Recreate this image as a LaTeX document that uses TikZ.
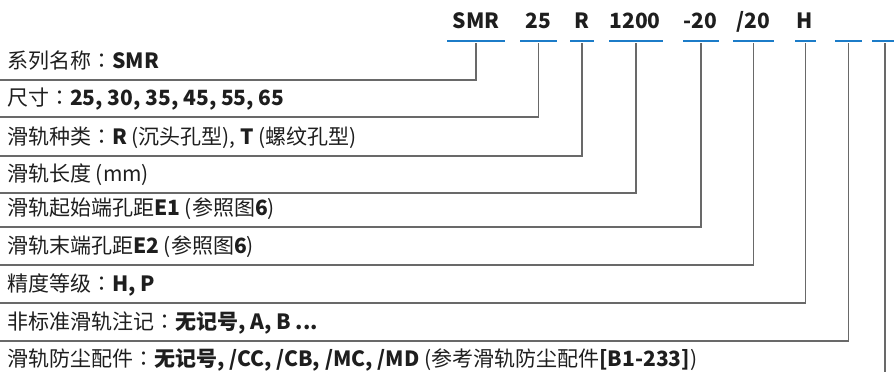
\documentclass[tikz,border=0pt]{standalone}
\usepackage{fontspec}
\setmainfont{Noto Sans CJK SC}
\newfontfamily\colonfont{Noto Sans CJK JP}
\newcommand{\fullcolon}{{\colonfont\mdseries ：}}
\definecolor{codeblue}{RGB}{28,124,200}
\definecolor{leadgray}{RGB}{105,105,105}
\definecolor{textdark}{RGB}{30,30,30}
\usetikzlibrary{positioning}

\tikzset{
  code/.style={anchor=base, font=\fontsize{21}{24}\selectfont\bfseries, text=textdark, inner sep=0pt},
  rowtext/.style={anchor=base west, font=\fontsize{21}{24}\selectfont, text=textdark, inner sep=0pt},
  dashbar/.style={fill=codeblue, inner sep=0pt, minimum height=2.6pt},
  leader/.style={draw=leadgray, line width=1.6pt}
}

\begin{document}
\begin{tikzpicture}[x=1pt, y=-1pt]
  \useasboundingbox (0,0) rectangle (894,372);

  % Order code on top
  \node[code] (cSMR) at (476,28) {SMR};
  \node[code] (c25) at (538,28) {25};
  \node[code] (cR) at (582,28) {R};
  \node[code] (c1200) at (635,28) {1200};
  \node[code] (cE1) at (700,28) {-20};
  \node[code] (cE2) at (753,28) {/20};
  \node[code] (cH) at (805,28) {H};

  % Blue marks under each field
  \node[dashbar, minimum width=58pt] (dSMR) at (476,41) {};
  \node[dashbar, minimum width=37pt] (d25) at (538.5,41) {};
  \node[dashbar, minimum width=24pt] (dR) at (582,41) {};
  \node[dashbar, minimum width=54pt] (d1200) at (636,41) {};
  \node[dashbar, minimum width=36pt] (dE1) at (701,41) {};
  \node[dashbar, minimum width=41pt] (dE2) at (753.5,41) {};
  \node[dashbar, minimum width=21pt] (dH) at (805.5,41) {};
  \node[dashbar, minimum width=27pt] (dX) at (848.5,41) {};
  \node[dashbar, minimum width=26pt] (dCC) at (885,41) {};

  % Row texts
  \node[rowtext] (rSMR) at (7,68) {系列名称\fullcolon\textbf{SMR}};
  \node[rowtext] (r25) at (7,105) {尺寸\fullcolon\textbf{25, 30, 35, 45, 55, 65}};
  \node[rowtext] (rR) at (7,144) {滑轨种类\fullcolon\textbf{R} (沉头孔型), \textbf{T} (螺纹孔型)};
  \node[rowtext] (r1200) at (7,181) {滑轨长度 (mm)};
  \node[rowtext] (rE1) at (7,215) {滑轨起始端孔距\textbf{E1} (参照图\textbf{6})};
  \node[rowtext] (rE2) at (7,253) {滑轨末端孔距\textbf{E2} (参照图\textbf{6})};
  \node[rowtext] (rH) at (7,291) {精度等级\fullcolon\textbf{H, P}};
  \node[rowtext] (rX) at (7,329) {非标准滑轨注记\fullcolon\textbf{无记号, A, B ...}};
  \node[rowtext] (rCC) at (7,366) {滑轨防尘配件\fullcolon\textbf{无记号, /CC, /CB, /MC, /MD} (参考滑轨防尘配件\textbf{[B1-233]})};

  % Underlines of the rows
  \coordinate (lSMR) at (0,80);
  \coordinate (l25) at (0,117);
  \coordinate (lR) at (0,156);
  \coordinate (l1200) at (0,193);
  \coordinate (lE1) at (0,227);
  \coordinate (lE2) at (0,265);
  \coordinate (lH) at (0,303);
  \coordinate (lX) at (0,341);
  \coordinate (lCC) at (885,372);

  % Leaders from rows up to the marks
  \draw[leader] (lSMR) -| (dSMR.south);
  \draw[leader] (l25) -| (d25.south);
  \draw[leader] (lR) -| (dR.south);
  \draw[leader] (l1200) -| (d1200.south);
  \draw[leader] (lE1) -| (dE1.south);
  \draw[leader] (lE2) -| (dE2.south);
  \draw[leader] (lH) -| (dH.south);
  \draw[leader] (lX) -| (dX.south);
  \draw[leader] (lCC) -- (dCC.south);
\end{tikzpicture}
\end{document}
